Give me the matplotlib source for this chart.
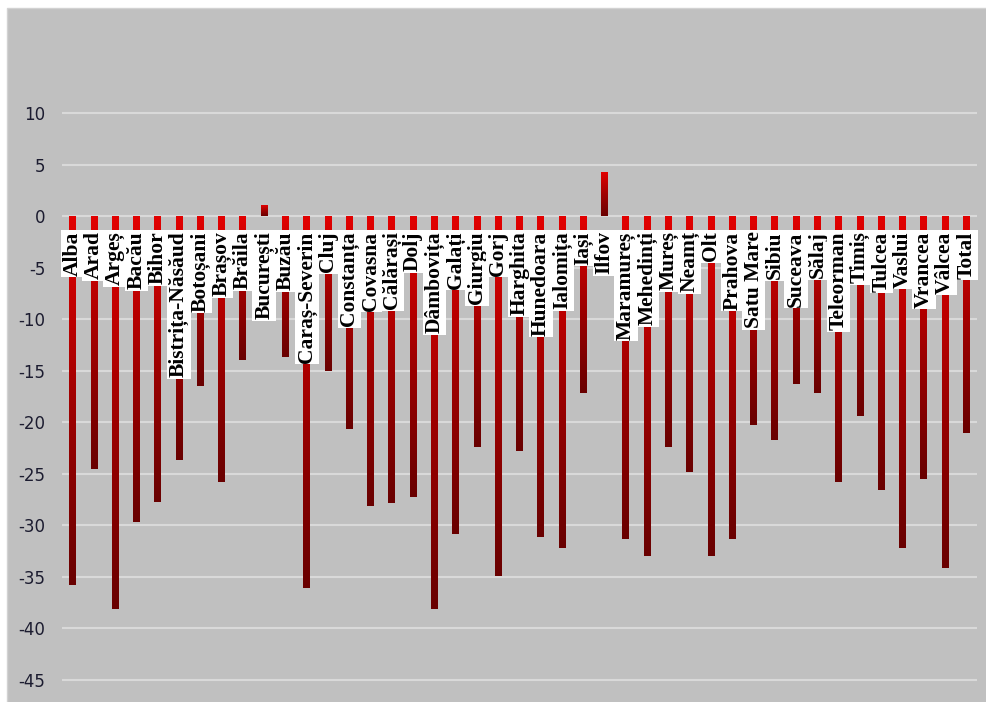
import numpy as np
import matplotlib
matplotlib.use("Agg")
import matplotlib.pyplot as plt
from matplotlib.colors import LinearSegmentedColormap
from matplotlib.patches import Rectangle

plt.rcParams["axes.unicode_minus"] = False

counties = ["Alba", "Arad", "Argeș", "Bacău", "Bihor", "Bistrița-Năsăud", "Botoșani",
            "Brașov", "Brăila", "București", "Buzău", "Caraș-Severin", "Cluj", "Constanța",
            "Covasna", "Călărași", "Dolj", "Dâmbovița", "Galați", "Giurgiu", "Gorj",
            "Harghita", "Hunedoara", "Ialomița", "Iași", "Ilfov", "Maramureș", "Mehedinți",
            "Mureș", "Neamț", "Olt", "Prahova", "Satu Mare", "Sibiu", "Suceava", "Sălaj",
            "Teleorman", "Timiș", "Tulcea", "Vaslui", "Vrancea", "Vâlcea", "Total"]
values = [-35.8, -24.5, -38.1, -29.7, -27.7, -23.6, -16.5,
          -25.8, -13.9, 1.0, -13.6, -36.1, -15.0, -20.6,
          -28.1, -27.8, -27.2, -38.1, -30.8, -22.4, -34.9,
          -22.8, -31.1, -32.2, -17.1, 4.2, -31.3, -33.0,
          -22.4, -24.8, -33.0, -31.3, -20.2, -21.7, -16.3, -17.1,
          -25.8, -19.4, -26.6, -32.2, -25.5, -34.1, -21.0]
yticks = list(range(-45, 11, 5))

W, H = 987, 702
fig = plt.figure(figsize=(W / 100, H / 100), dpi=100)
fig.patch.set_facecolor("white")
# grey chart area
fig.patches.append(Rectangle((7 / W, -0.01), 1, 1 - 8 / H + 0.01, transform=fig.transFigure,
                             facecolor="#c0c0c0", edgecolor="#d2d2d2", lw=1, zorder=-10))

ax = fig.add_axes([62 / W, 0, 915 / W, (H - 8) / H])
ax.set_facecolor("none")

# red -> dark red gradient inside every bar
cmap = LinearSegmentedColormap.from_list("bars", ["#690000", "#a00000", "#e20000"])
grad = np.linspace(1, 0, 256).reshape(-1, 1)
w = 0.32
for i, v in enumerate(values):
    ax.imshow(grad, cmap=cmap, vmin=0, vmax=1, aspect="auto", interpolation="bilinear",
              extent=(i - w / 2, i + w / 2, min(v, 0), max(v, 0)), zorder=2)
    ax.text(i, -1.45, counties[i], rotation=90, ha="center", va="top",
            fontsize=15.5, fontweight="bold", family="Liberation Serif", color="black",
            bbox=dict(boxstyle="square,pad=0.08", fc="white", ec="none"), zorder=3)

ax.set_xlim(-0.5, len(values) - 0.5)
ax.set_ylim(-47.14, 20.24)
ax.set_yticks(yticks)
ax.set_xticks([])
ax.grid(axis="y", color="#d9d9d9", lw=1.5)
ax.set_axisbelow(True)
for s in ax.spines.values():
    s.set_visible(False)
ax.tick_params(axis="y", length=0, pad=12, labelsize=12, labelcolor="#1c1c30")

fig.savefig("out.png", dpi=100, facecolor=fig.get_facecolor())
